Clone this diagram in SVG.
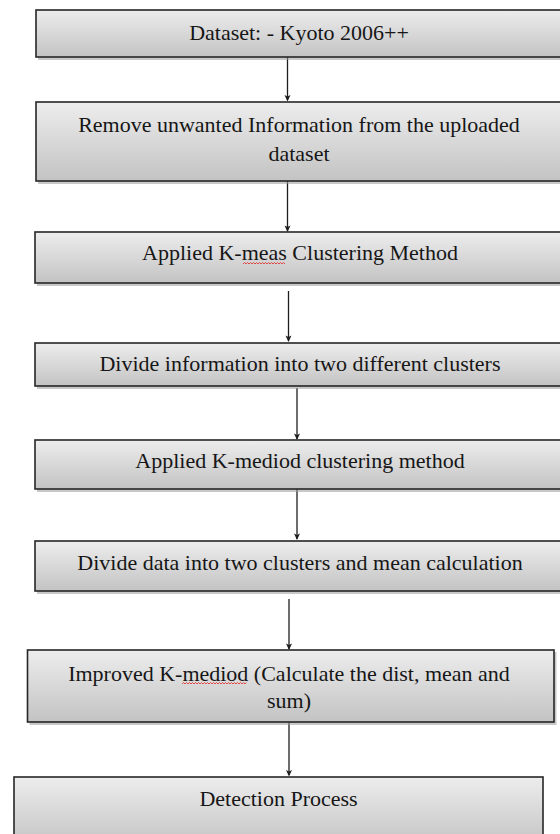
<svg xmlns="http://www.w3.org/2000/svg" width="560" height="834" viewBox="0 0 560 834">
<defs>
<linearGradient id="g" x1="0" y1="0" x2="0" y2="1">
<stop offset="0" stop-color="#ededed"/>
<stop offset="1" stop-color="#c3c3c3"/>
</linearGradient>
<style>
.box{fill:url(#g);stroke:#262626;stroke-width:1.6}
.sh{fill:#9a9a9a;opacity:0.55}
.t{font-family:"Liberation Serif","Times New Roman",serif;font-size:22px;fill:#161616;text-anchor:middle}
.c{stroke:#1e1e1e;stroke-width:1.3;fill:none}
.ah{fill:#1e1e1e}
.sq{stroke:#e02020;stroke-width:0.8;fill:none}
</style>
</defs>
<rect width="560" height="834" fill="#ffffff"/>
<g id="connectors">
<line class="c" x1="287.5" y1="50" x2="287.5" y2="100"/>
<path class="ah" d="M284.5,95 L287.5,101.5 L290.5,95 L287.5,96.5 Z"/>
<line class="c" x1="287.5" y1="181" x2="287.5" y2="231"/>
<path class="ah" d="M284.5,225.5 L287.5,232 L290.5,225.5 L287.5,227 Z"/>
<line class="c" x1="288.5" y1="291" x2="288.5" y2="341"/>
<path class="ah" d="M285.5,335.5 L288.5,342 L291.5,335.5 L288.5,337 Z"/>
<line class="c" x1="297" y1="388" x2="297" y2="439"/>
<path class="ah" d="M294,433.5 L297,440 L300,433.5 L297,435 Z"/>
<line class="c" x1="297" y1="489" x2="297" y2="539"/>
<path class="ah" d="M294,533.5 L297,540 L300,533.5 L297,535 Z"/>
<line class="c" x1="289" y1="599" x2="289" y2="649"/>
<path class="ah" d="M286,643.5 L289,650 L292,643.5 L289,645 Z"/>
<line class="c" x1="289" y1="722" x2="289" y2="775"/>
<path class="ah" d="M286,770 L289,776.5 L292,770 L289,771.5 Z"/>
</g>
<g id="n1">
<rect class="sh" x="38" y="12" width="540" height="48"/>
<rect class="box" x="36" y="10" width="540" height="47"/>
<text class="t" x="299" y="40">Dataset: - Kyoto 2006++</text>
</g>
<g id="n2">
<rect class="sh" x="38" y="104" width="540" height="80"/>
<rect class="box" x="36" y="102" width="540" height="79"/>
<text class="t" x="299" y="132">Remove unwanted Information from the uploaded</text>
<text class="t" x="299" y="161">dataset</text>
</g>
<g id="n3">
<rect class="sh" x="37" y="234" width="540" height="52"/>
<rect class="box" x="35" y="232" width="540" height="51"/>
<text class="t" x="300" y="260">Applied K-meas Clustering Method</text>
<path class="sq" d="M243,264 l1.5,-1.5 l1.5,1.5 l1.5,-1.5 l1.5,1.5 l1.5,-1.5 l1.5,1.5 l1.5,-1.5 l1.5,1.5 l1.5,-1.5 l1.5,1.5 l1.5,-1.5 l1.5,1.5 l1.5,-1.5 l1.5,1.5 l1.5,-1.5 l1.5,1.5 l1.5,-1.5 l1.5,1.5 l1.5,-1.5 l1.5,1.5 l1.5,-1.5 l1.5,1.5 l1.5,-1.5 l1.5,1.5 l1.5,-1.5 l1.5,1.5 l1.5,-1.5 l1.5,1.5"/>
</g>
<g id="n4">
<rect class="sh" x="37" y="345" width="540" height="44"/>
<rect class="box" x="35" y="343" width="540" height="43"/>
<text class="t" x="300" y="371">Divide information into two different clusters</text>
</g>
<g id="n5">
<rect class="sh" x="37" y="442" width="540" height="50"/>
<rect class="box" x="35" y="440" width="540" height="49"/>
<text class="t" x="300" y="468">Applied K-mediod clustering method</text>
</g>
<g id="n6">
<rect class="sh" x="37" y="543" width="540" height="51"/>
<rect class="box" x="35" y="541" width="540" height="50"/>
<text class="t" x="300" y="570">Divide data into two clusters and mean calculation</text>
</g>
<g id="n7">
<rect class="sh" x="29.5" y="652" width="527" height="73"/>
<rect class="box" x="27.5" y="650" width="526.5" height="72"/>
<text class="t" x="289" y="680.5">Improved K-mediod (Calculate the dist, mean and</text>
<text class="t" x="289" y="708">sum)</text>
<path class="sq" d="M182,684 l1.5,-1.5 l1.5,1.5 l1.5,-1.5 l1.5,1.5 l1.5,-1.5 l1.5,1.5 l1.5,-1.5 l1.5,1.5 l1.5,-1.5 l1.5,1.5 l1.5,-1.5 l1.5,1.5 l1.5,-1.5 l1.5,1.5 l1.5,-1.5 l1.5,1.5 l1.5,-1.5 l1.5,1.5 l1.5,-1.5 l1.5,1.5 l1.5,-1.5 l1.5,1.5 l1.5,-1.5 l1.5,1.5 l1.5,-1.5 l1.5,1.5 l1.5,-1.5 l1.5,1.5 l1.5,-1.5 l1.5,1.5 l1.5,-1.5 l1.5,1.5 l1.5,-1.5 l1.5,1.5 l1.5,-1.5 l1.5,1.5 l1.5,-1.5 l1.5,1.5 l1.5,-1.5 l1.5,1.5 l1.5,-1.5 l1.5,1.5 l1.5,-1.5"/>
</g>
<g id="n8">
<rect class="box" x="14" y="777" width="529" height="70"/>
<text class="t" x="278.5" y="806">Detection Process</text>
</g>
</svg>
